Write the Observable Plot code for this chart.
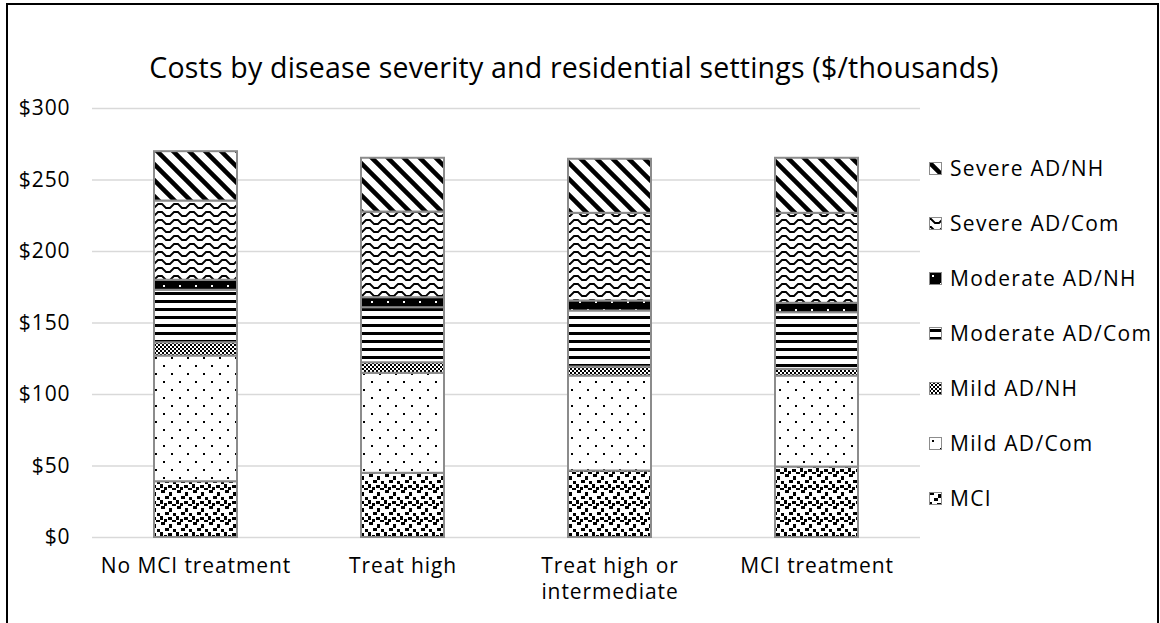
<!DOCTYPE html>
<html>
<head>
<meta charset="utf-8">
<script src="https://cdn.jsdelivr.net/npm/d3@7"></script>
<script src="https://cdn.jsdelivr.net/npm/@observablehq/plot@0.6"></script>
<style>
  html, body { margin: 0; padding: 0; background: #fff; }
  body { width: 1160px; height: 623px; overflow: hidden; position: relative; font-family: "Open Sans", sans-serif; }
  #frame { position: absolute; left: 6px; top: 3px; width: 1153px; height: 700px; border: 2px solid #000; box-sizing: border-box; }
  #title { position: absolute; left: 0px; width: 1148px; top: 48px; text-align: center; font-size: 28.5px; line-height: 38px; color: #000; letter-spacing: 0.2px; }
  #chart { position: absolute; left: 0; top: 90px; }
  #chart svg text { letter-spacing: 0.9px; }
  .leg { position: absolute; left: 929px; height: 26px; display: flex; align-items: center; font-size: 21px; color: #000; white-space: nowrap; letter-spacing: 1.3px; }
  .leg svg { margin-right: 8px; }
</style>
</head>
<body>
<svg width="0" height="0" style="position:absolute">
  <defs>
    <pattern id="pat0" width="16" height="16" patternUnits="userSpaceOnUse">
      <rect width="16" height="16" fill="#fff"/>
      <g fill="#000">
        <rect x="1" y="0" width="4" height="3"/><rect x="9" y="2" width="3" height="4"/>
        <rect x="5" y="6" width="4" height="3"/><rect x="13" y="7" width="3" height="3"/>
        <rect x="0" y="10" width="3" height="4"/><rect x="8" y="11" width="4" height="3"/>
        <rect x="4" y="13" width="3" height="3"/><rect x="12" y="14" width="4" height="2"/>
      </g>
    </pattern>
    <pattern id="pat1" width="16" height="16" patternUnits="userSpaceOnUse">
      <rect width="16" height="16" fill="#fff"/>
      <rect x="3" y="3" width="2" height="2" fill="#000"/><rect x="11" y="11" width="2" height="2" fill="#000"/>
    </pattern>
    <pattern id="pat2" width="4" height="4" patternUnits="userSpaceOnUse">
      <rect width="4" height="4" fill="#fff"/>
      <rect x="0" y="0" width="2" height="2" fill="#000"/><rect x="2" y="2" width="2" height="2" fill="#000"/>
    </pattern>
    <pattern id="pat3" width="8" height="8" patternUnits="userSpaceOnUse">
      <rect width="8" height="8" fill="#fff"/>
      <rect x="0" y="2" width="8" height="3" fill="#000"/>
    </pattern>
    <pattern id="pat4" width="16" height="16" patternUnits="userSpaceOnUse">
      <rect width="16" height="16" fill="#000"/>
      <rect x="3" y="3" width="2" height="2" fill="#fff"/><rect x="11" y="11" width="2" height="2" fill="#fff"/>
    </pattern>
    <pattern id="pat5" width="16" height="8" patternUnits="userSpaceOnUse">
      <rect width="16" height="8" fill="#fff"/>
      <path d="M0,2 L2,2 L6,6 L10,6 L14,2 L16,2" fill="none" stroke="#000" stroke-width="1.8"/>
    </pattern>
    <pattern id="pat6" width="16" height="16" patternUnits="userSpaceOnUse">
      <rect width="16" height="16" fill="#fff"/>
      <path d="M-4,-4 L20,20 M-4,12 L4,20 M12,-4 L20,4" stroke="#000" stroke-width="4.5"/>
    </pattern>
  </defs>
</svg>
<div id="frame"></div>
<div id="title">Costs by disease severity and residential settings ($/thousands)</div>
<div id="chart"></div>
<div id="legend"></div>
<script>
const scenarios = ["No MCI treatment", "Treat high", "Treat high or intermediate", "MCI treatment"];
const tickLabels = ["No MCI treatment", "Treat high", "Treat high or\nintermediate", "MCI treatment"];
const series = ["MCI", "Mild AD/Com", "Mild AD/NH", "Moderate AD/Com", "Moderate AD/NH", "Severe AD/Com", "Severe AD/NH"];
const patternIds = ["pat0", "pat1", "pat2", "pat3", "pat4", "pat5", "pat6"];
const yTicks = [0, 50, 100, 150, 200, 250, 300];

const mci            = [39.0, 44.9, 46.5, 49.3];
const mildCom        = [87.9, 69.9, 66.4, 63.6];
const mildNH         = [9.3, 7.4, 6.3, 4.7];
const moderateCom    = [36.7, 38.5, 39.2, 39.6];
const moderateNH     = [7.0, 7.0, 7.0, 6.6];
const severeCom      = [55.4, 59.9, 61.3, 62.9];
const severeNH       = [34.5, 37.6, 37.8, 38.5];

const seriesValues = [mci, mildCom, mildNH, moderateCom, moderateNH, severeCom, severeNH];
const data = [];
series.forEach((s, si) => scenarios.forEach((sc, i) => data.push({scenario: sc, series: s, value: seriesValues[si][i]})));

const chart = Plot.plot({
  width: 1160,
  height: 517,
  marginLeft: 92,
  marginRight: 240,
  marginTop: 18,
  marginBottom: 70,
  style: {fontFamily: "Open Sans", fontSize: "21px", color: "#000", background: "transparent"},
  x: {domain: scenarios, paddingInner: 0.6, paddingOuter: 0.3, label: null},
  y: {domain: [0, 300], label: null},
  color: {domain: series, range: patternIds.map(id => `url(#${id})`)},
  marks: [
    Plot.gridY(yTicks, {stroke: "#d9d9d9", strokeOpacity: 1, strokeWidth: 1.5}),
    Plot.axisY(yTicks, {tickSize: 0, tickPadding: 22, tickFormat: d => "$" + d, fontSize: 21, label: null}),
    Plot.axisX({tickSize: 0, tickPadding: 17, tickFormat: d => tickLabels[scenarios.indexOf(d)], fontSize: 21, lineHeight: 1.25, label: null}),
    Plot.barY(data, {x: "scenario", y: "value", fill: "series", stroke: "#8c8c8c", strokeWidth: 2})
  ]
});
document.getElementById("chart").appendChild(chart);

const legend = document.getElementById("legend");
const ordered = series.map((s, i) => ({s, id: patternIds[i]})).reverse();
ordered.forEach((d, i) => {
  const cy = 168 + 55 * i;
  const item = document.createElement("div");
  item.className = "leg";
  item.style.top = (cy - 13) + "px";
  item.innerHTML = `<svg width="13" height="13"><rect x="0.5" y="0.5" width="12" height="12" fill="url(#${d.id})" stroke="#8c8c8c" stroke-width="1"/></svg><span>${d.s}</span>`;
  legend.appendChild(item);
});
</script>
</body>
</html>
